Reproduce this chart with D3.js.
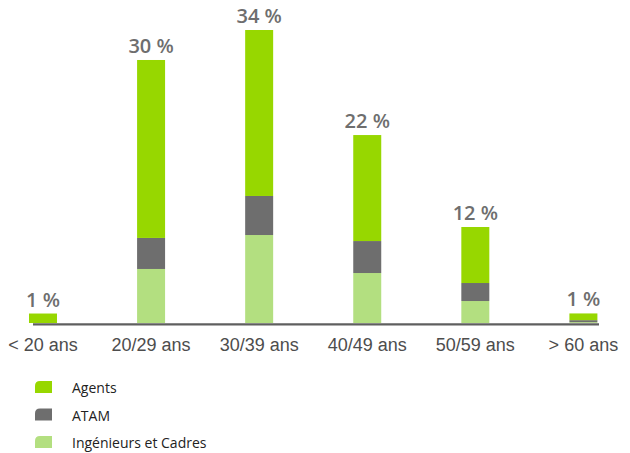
<!DOCTYPE html>
<html><head><meta charset="utf-8">
<script src="https://cdn.jsdelivr.net/npm/d3@7"></script>
<style>body{margin:0;background:#fff}svg{display:block}</style>
</head><body>
<svg id="c" width="630" height="453"></svg>
<script>
const categories = ["< 20 ans","20/29 ans","30/39 ans","40/49 ans","50/59 ans","> 60 ans"];
const ingenieurs = [0, 6.27, 10.21, 5.8, 2.55, 0.1];
const atam = [0, 3.6, 4.53, 3.71, 2.09, 0.23];
const agents = [1.1, 20.65, 19.26, 12.3, 6.5, 0.78];
const totalLabels = ["1 %","30 %","34 %","22 %","12 %","1 %"];
const seriesNames = ["Agents","ATAM","Ingénieurs et Cadres"];
const colors = {"Agents":"#97d700","ATAM":"#6e6e6e","Ingénieurs et Cadres":"#b3df80"};

const rows = categories.map((c,i)=>({cat:c,"Ingénieurs et Cadres":ingenieurs[i],"ATAM":atam[i],"Agents":agents[i],label:totalLabels[i]}));
const keys = ["Ingénieurs et Cadres","ATAM","Agents"];
const stack = d3.stack().keys(keys)(rows);

const svg = d3.select("#c");
const x = d3.scaleBand().domain(categories).range([29, 597.4]).paddingInner(0.741).paddingOuter(0);
const y = d3.scaleLinear().domain([0, 34]).range([323, 30]);

svg.append("g").selectAll("g").data(stack).join("g")
  .attr("fill", d=>colors[d.key])
  .selectAll("rect").data(d=>d).join("rect")
  .attr("x", d=>x(d.data.cat))
  .attr("width", x.bandwidth())
  .attr("y", d=>y(d[1]))
  .attr("height", d=>Math.max(0, y(d[0])-y(d[1])));

// axis
const ax = svg.append("g").attr("transform","translate(0,324.3)")
  .call(d3.axisBottom(x).tickSize(0).tickPadding(0));
ax.select(".domain").attr("stroke","#5f5f5f").attr("stroke-width",2.2).attr("d", `M${x.range()[0]+4},0H${x.range()[1]+1.6}`);
ax.selectAll(".tick text").attr("y",27).attr("dy",0)
  .attr("font-family","'Liberation Sans', Arial, sans-serif").attr("font-size",18).attr("fill","#4d4d4d");

// total labels
svg.append("g").selectAll("text").data(rows).join("text")
  .attr("x", d=>x(d.cat)+x.bandwidth()/2)
  .attr("y", d=>y(d["Ingénieurs et Cadres"]+d.ATAM+d.Agents)-7)
  .attr("text-anchor","middle")
  .attr("font-family","'Open Sans', sans-serif").attr("font-weight",600).attr("font-size",20)
  .attr("fill","#6e6e6e").text(d=>d.label);

// legend
const lg = svg.append("g").selectAll("g").data(seriesNames).join("g")
  .attr("transform",(d,i)=>`translate(35,${381+i*27.5})`);
lg.append("path").attr("d","M0,12V5Q0,0,5,0H17V12Z").attr("fill",d=>colors[d]);
lg.append("text").attr("x",37).attr("y",12)
  .attr("font-family","'Open Sans', sans-serif").attr("font-size",14).attr("fill","#222")
  .text(d=>d);
</script>
</body></html>
